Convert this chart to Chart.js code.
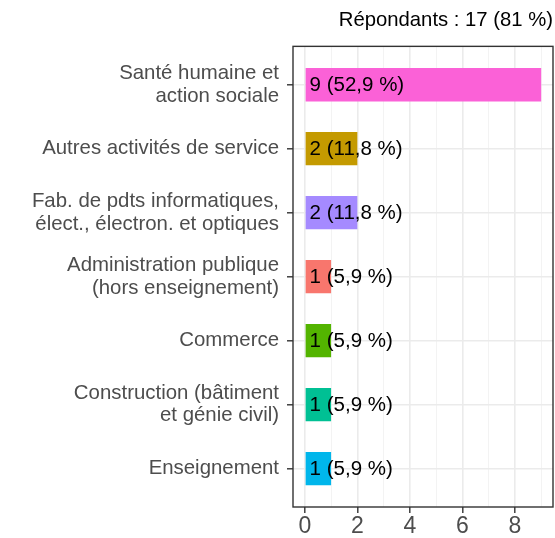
<!DOCTYPE html>
<html>
<head>
<meta charset="utf-8">
<script src="https://cdn.jsdelivr.net/npm/chart.js@4"></script>
<style>
  html, body { margin: 0; padding: 0; background: #fff; }
</style>
</head>
<body>
<canvas id="sectorChart" width="555" height="538"></canvas>
<script>
// Données
const categories = [
    ['Santé humaine et', 'action sociale'],
    'Autres activités de service',
    ['Fab. de pdts informatiques,', 'élect., électron. et optiques'],
    ['Administration publique', '(hors enseignement)'],
    'Commerce',
    ['Construction (bâtiment', 'et génie civil)'],
    'Enseignement'
];
const counts = [9, 2, 2, 1, 1, 1, 1];
const totalRespondents = 17;
const responseRate = 81;
const barColors = ['#FB61D7', '#C49A00', '#A58AFF', '#F8766D', '#53B400', '#00C094', '#00B6EB'];
const xTickValues = [0, 1, 2, 3, 4, 5, 6, 7, 8, 9];

Chart.defaults.font.family = '"Liberation Sans", Arial, sans-serif';

// cadre du panneau (style ggplot)
const panelBorder = {
    id: 'panelBorder',
    afterDraw(chart) {
        const { ctx, chartArea: a } = chart;
        ctx.save();
        ctx.strokeStyle = '#333333';
        ctx.lineWidth = 1.4;
        ctx.strokeRect(a.left, a.top, a.right - a.left, a.bottom - a.top);
        ctx.restore();
    }
};

// étiquettes "n (p %)" dans les barres
const barLabels = {
    id: 'barLabels',
    afterDatasetsDraw(chart) {
        const { ctx } = chart;
        const meta = chart.getDatasetMeta(0);
        ctx.save();
        ctx.font = '20.5px "Liberation Sans", Arial, sans-serif';
        ctx.fillStyle = '#000';
        ctx.textAlign = 'left';
        ctx.textBaseline = 'middle';
        meta.data.forEach((bar, i) => {
            const v = counts[i];
            const pct = (v / totalRespondents * 100).toFixed(1).replace('.', ',');
            ctx.fillText(v + ' (' + pct + ' %)', Math.min(bar.base, bar.x) + 4, bar.y + 1);
        });
        ctx.restore();
    }
};

const ctx = document.getElementById('sectorChart').getContext('2d');
const sectorChart = new Chart(ctx, {
    type: 'bar',
    data: {
        datasets: [{
            data: counts.map((v, i) => ({ x: v, y: i })),
            backgroundColor: barColors,
            borderWidth: 0,
            categoryPercentage: 1,
            barPercentage: 0.52
        }]
    },
    options: {
        indexAxis: 'y',
        responsive: false,
        animation: false,
        layout: { padding: { right: 2 } },
        plugins: {
            legend: { display: false },
            tooltip: { enabled: false },
            title: {
                display: true,
                text: 'Répondants : ' + totalRespondents + ' (' + responseRate + ' %)',
                align: 'end',
                color: '#000',
                font: { size: 20.3, weight: 'normal' },
                padding: { top: 8, bottom: 14 }
            }
        },
        scales: {
            x: {
                type: 'linear',
                min: -0.45,
                max: 9.45,
                afterBuildTicks: (axis) => { axis.ticks = xTickValues.map(v => ({ value: v })); },
                afterFit: (axis) => { axis.height = 31; },
                ticks: {
                    color: '#4D4D4D',
                    font: { size: 23 },
                    padding: 0,
                    maxRotation: 0,
                    autoSkip: false,
                    callback: (v) => (v % 2 === 0 ? v : '')
                },
                grid: {
                    color: (c) => (c.tick && c.tick.value % 2 === 0 ? '#EBEBEB' : '#F2F2F2'),
                    lineWidth: (c) => (c.tick && c.tick.value % 2 === 0 ? 1.6 : 0.9),
                    tickColor: (c) => (c.tick && c.tick.value % 2 === 0 ? '#333333' : 'rgba(0,0,0,0)'),
                    tickWidth: 1.4,
                    tickLength: 6
                },
                border: { display: false }
            },
            y: {
                type: 'linear',
                reverse: true,
                offset: false,
                min: -0.6,
                max: 6.6,
                afterBuildTicks: (axis) => { axis.ticks = categories.map((c, i) => ({ value: i })); },
                afterFit: (axis) => { axis.width = 293; },
                ticks: {
                    color: '#4D4D4D',
                    font: { size: 20.4, lineHeight: 1.1 },
                    padding: 8,
                    autoSkip: false,
                    callback: (v) => categories[v]
                },
                grid: {
                    offset: false,
                    color: '#EBEBEB',
                    lineWidth: 1.6,
                    tickColor: '#333333',
                    tickWidth: 1.4,
                    tickLength: 6
                },
                border: { display: false }
            }
        }
    },
    plugins: [panelBorder, barLabels]
});
</script>
</body>
</html>
